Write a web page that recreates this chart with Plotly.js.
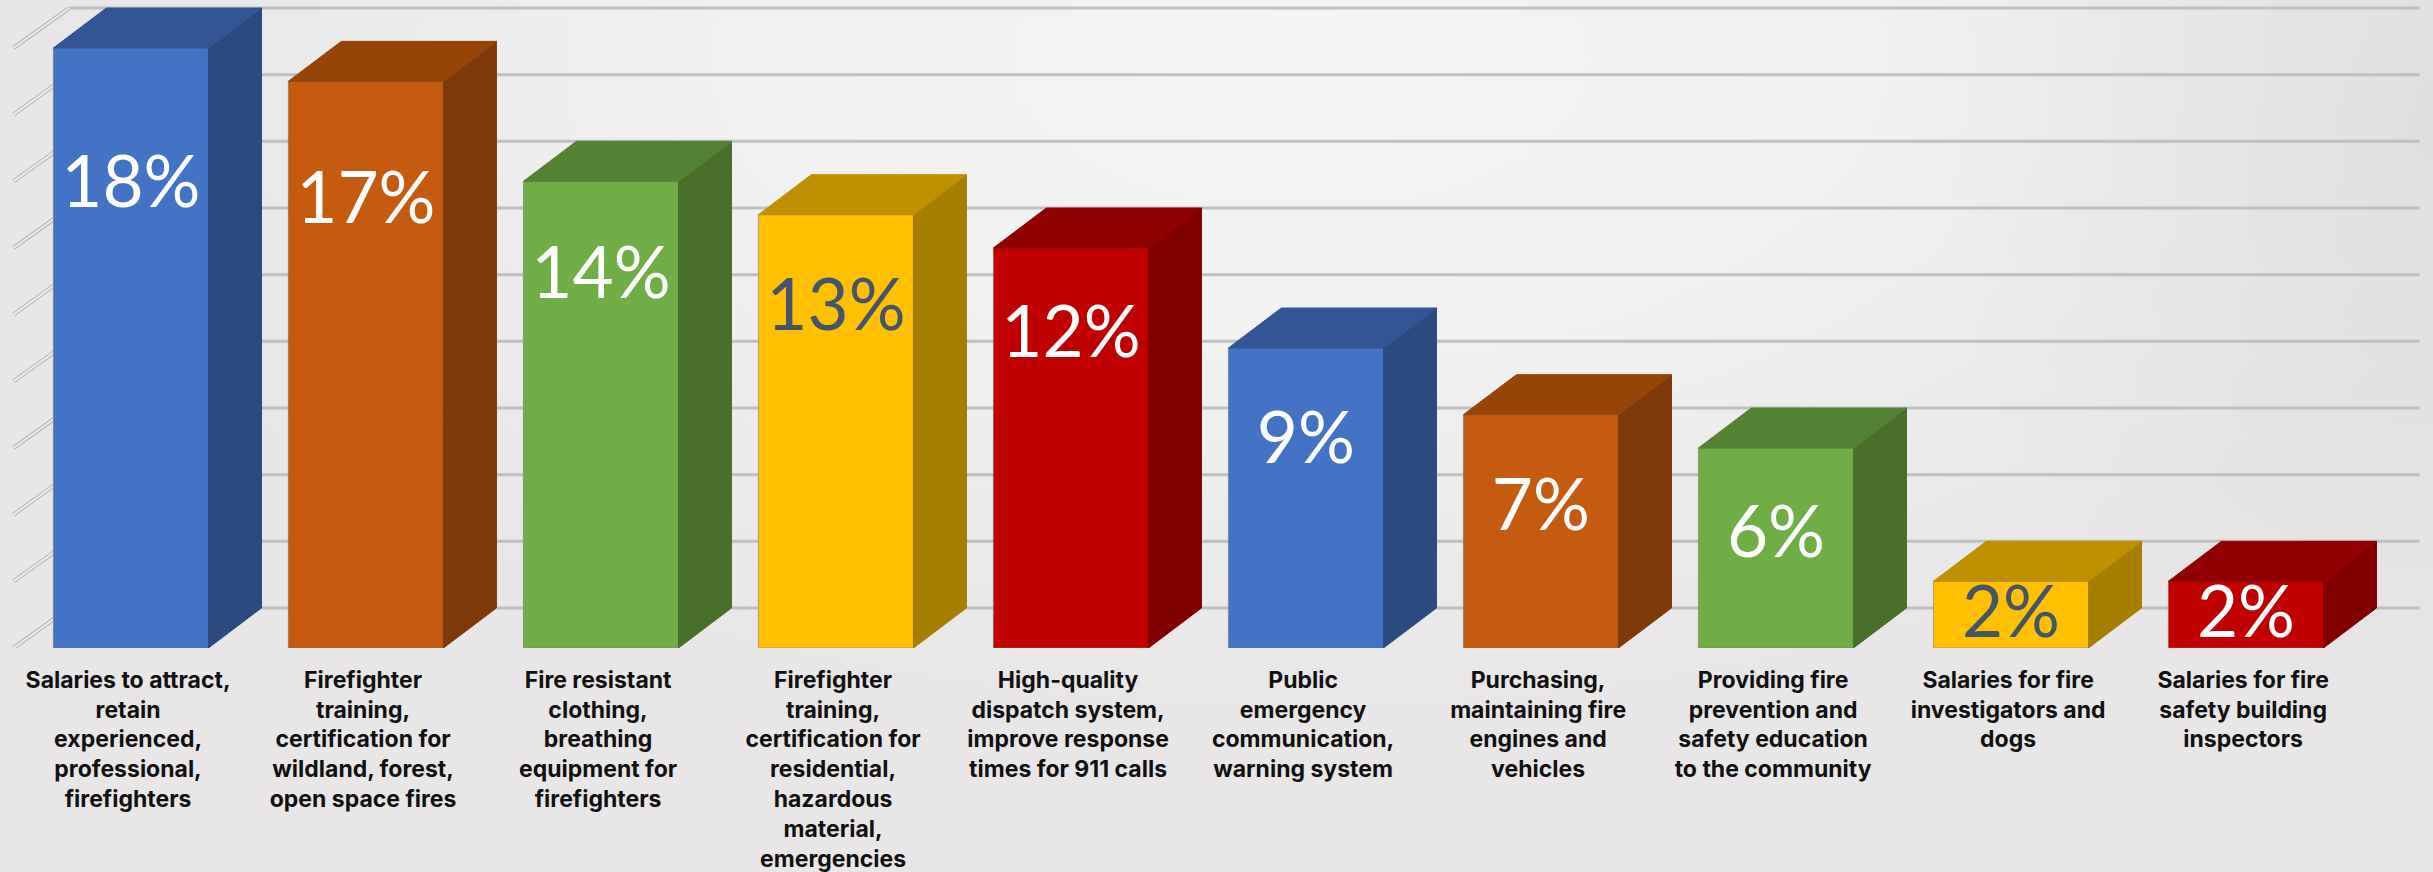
<!DOCTYPE html>
<html><head><meta charset="utf-8">
<script src="https://cdn.plot.ly/plotly-3.0.1.min.js"></script>
<style>
html,body{margin:0;padding:0;width:2433px;height:872px;overflow:hidden;
background:radial-gradient(ellipse 520px 620px at 2433px 120px,rgba(0,0,0,0.04),rgba(0,0,0,0)),
radial-gradient(ellipse 1250px 650px at 1300px 60px,#f5f5f5 0%,#f1f1f1 45%,#e8e6e6 100%);}
#chart{width:2433px;height:872px;}
</style></head><body><div id="chart"></div>
<script>
const categories=[
"Salaries to attract,<br>retain<br>experienced,<br>professional,<br>firefighters",
"Firefighter<br>training,<br>certification for<br>wildland, forest,<br>open space fires",
"Fire resistant<br>clothing,<br>breathing<br>equipment for<br>firefighters",
"Firefighter<br>training,<br>certification for<br>residential,<br>hazardous<br>material,<br>emergencies",
"High-quality<br>dispatch system,<br>improve response<br>times for 911 calls",
"Public<br>emergency<br>communication,<br>warning system",
"Purchasing,<br>maintaining fire<br>engines and<br>vehicles",
"Providing fire<br>prevention and<br>safety education<br>to the community",
"Salaries for fire<br>investigators and<br>dogs",
"Salaries for fire<br>safety building<br>inspectors"];
const values=[18,17,14,13,12,9,7,6,2,2];
const gridValues=[0,2,4,6,8,10,12,14,16,18];
const labelDrop=[4.23,3.73,2.98,2.93,2.73,2.93,2.93,2.73,1.13,1.13];
const frontColors=["#4472C4","#C55A11","#70AD47","#FFC000","#C00000","#4472C4","#C55A11","#70AD47","#FFC000","#C00000"];
const sideColors=["#2C4A80","#7F3A0B","#4A6F2B","#A67F00","#800000","#2C4A80","#7F3A0B","#4A6F2B","#A67F00","#800000"];
const topColors=["#335593","#974409","#548235","#BF9000","#900000","#335593","#974409","#548235","#BF9000","#900000"];
const labelColors=["#fff","#fff","#fff","#44546A","#fff","#fff","#fff","#fff","#44546A","#fff"];

const idx=values.map((_,i)=>i);
const barW=0.66, dx=0.2255, dy=1.2;
const traces=[];
traces.push({type:'bar',x:idx,y:values,width:barW,marker:{color:frontColors,line:{color:'rgba(120,120,120,0.55)',width:1}},hoverinfo:'skip'});
idx.forEach(i=>{
  const r=i+barW/2,l=i-barW/2,v=values[i];
  traces.push({type:'scatter',mode:'lines',x:[r,r+dx,r+dx,r,r],y:[0,dy,v+dy,v,0],fill:'toself',fillcolor:sideColors[i],line:{color:sideColors[i],width:1},hoverinfo:'skip'});
  traces.push({type:'scatter',mode:'lines',x:[l,l+dx,r+dx,r,l],y:[v,v+dy,v+dy,v,v],fill:'toself',fillcolor:topColors[i],line:{color:topColors[i],width:1},hoverinfo:'skip'});
});
traces.push({type:'scatter',mode:'text',x:idx,y:values.map((v,i)=>v-labelDrop[i]),text:values.map(v=>v+'%'),
  textposition:'middle center',textfont:{family:'Lato, sans-serif',size:71,color:labelColors,weight:400},hoverinfo:'skip'});

const wallL=-0.5,wallR=9.5,wallD=0.238;
const shapes=[];
gridValues.forEach(g=>{
  shapes.push({type:'line',layer:'below',xref:'x',yref:'y',x0:wallL+wallD,x1:wallR+wallD,y0:g+dy,y1:g+dy,line:{color:'#bfbfbf',width:3}});
  shapes.push({type:'line',layer:'below',xref:'x',yref:'y',x0:wallL,x1:wallL+wallD,y0:g,y1:g+dy,line:{color:'#b8b8b8',width:4}});
  shapes.push({type:'line',layer:'below',xref:'x',yref:'y',x0:wallL,x1:wallL+wallD,y0:g,y1:g+dy,line:{color:'#ebebeb',width:2}});
});
const layout={width:2433,height:872,margin:{l:0,r:0,t:0,b:224,pad:0},showlegend:false,
  paper_bgcolor:'rgba(0,0,0,0)',plot_bgcolor:'rgba(0,0,0,0)',shapes,
  xaxis:{type:'linear',range:[-0.557,9.796],tickmode:'array',tickvals:idx.map(i=>i-0.012),ticktext:categories,tickangle:0,
    ticks:'outside',ticklen:11,tickcolor:'rgba(0,0,0,0)',showgrid:false,zeroline:false,showline:false,
    tickfont:{family:'Inter, sans-serif',size:23,color:'#111',weight:700}},
  yaxis:{range:[0,19.44],visible:false,showgrid:false,zeroline:false}};
Plotly.newPlot('chart',traces,layout,{displayModeBar:false,staticPlot:true});
</script></body></html>
